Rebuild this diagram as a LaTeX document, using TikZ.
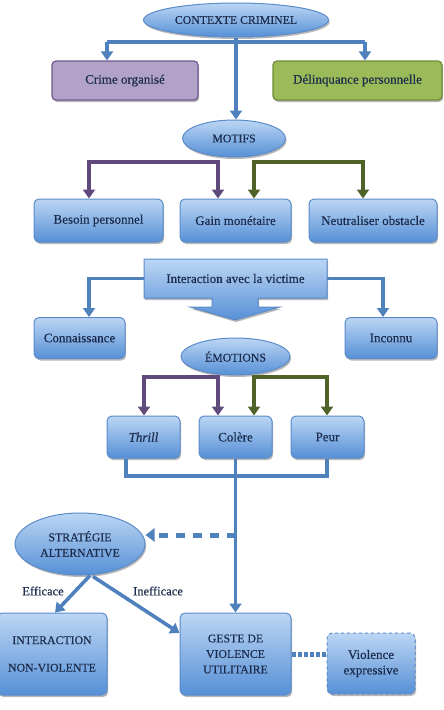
\documentclass[tikz,border=0pt]{standalone}
\usepackage{fontspec}
\setmainfont{Liberation Serif}[FakeBold=0.35]
\usetikzlibrary{shapes.geometric,shadows,arrows.meta}
\definecolor{connc}{HTML}{4F81BD}
\definecolor{bordc}{HTML}{5B8BC9}
\definecolor{btop}{HTML}{BCD6F4}
\definecolor{bbot}{HTML}{5690D6}
\definecolor{txt}{HTML}{1B2B4B}
\definecolor{purpl}{HTML}{604A7B}
\definecolor{purpf}{HTML}{B3A2C7}
\definecolor{purpb}{HTML}{6E5A8E}
\definecolor{greenl}{HTML}{4F6228}
\definecolor{greenf}{HTML}{9BBB59}
\definecolor{greenb}{HTML}{6F8A3A}
\begin{document}
\begin{tikzpicture}[x=1pt,y=-1pt,
  shad/.style={drop shadow={shadow xshift=1.2pt,shadow yshift=-2pt,opacity=0.4,fill=black!70}},
  lower/.style={font=\fontsize{13}{15.5}\selectfont},
  caps/.style={font=\fontsize{11.8}{15.5}\selectfont},
  bbox/.style={shad,rectangle,rounded corners=5pt,draw=bordc,line width=1pt,top color=btop,bottom color=bbot,text=txt,align=center,inner sep=0pt,lower},
  ell/.style={shad,ellipse,draw=bordc,line width=1pt,top color=btop,bottom color=bbot,text=txt,align=center,inner sep=0pt,caps},
  conn/.style={draw=connc,line width=3.6pt},
  tip/.style={-{Triangle[width=12pt,length=9pt]}},
  twotip/.style={{Triangle[width=12pt,length=9pt]}-{Triangle[width=12pt,length=9pt]}},
  purp/.style={draw=purpl,line width=3.6pt,twotip},
  gree/.style={draw=greenl,line width=3.6pt,twotip},
  lbl/.style={text=txt,font=\fontsize{12.5}{15}\selectfont,inner sep=0pt}
]
\useasboundingbox (0,0) rectangle (444,710);
\clip (0,0) rectangle (444,710);

% top
\node[ell,minimum width=185,minimum height=34] (ctx) at (236,20) {CONTEXTE CRIMINEL};
\node[shad,rectangle,rounded corners=4pt,draw=purpb,line width=1.2pt,fill=purpf,text=txt,lower,inner sep=0pt,minimum width=146,minimum height=39] (crime) at (125,80.5) {Crime organisé};
\node[shad,rectangle,rounded corners=4pt,draw=greenb,line width=1.2pt,fill=greenf,text=txt,lower,inner sep=0pt,minimum width=169,minimum height=39] (delin) at (357.5,80.5) {Délinquance personnelle};
\node[ell,minimum width=103,minimum height=37] (motifs) at (234,138.5) {MOTIFS};

\coordinate (tl) at (107,42);
\coordinate (tr) at (365,42);
\draw[conn] (tl) -- (tr);
\draw[conn,tip] (tl) -- (tl |- crime.north);
\draw[conn,tip] (tr) -- (tr |- delin.north);
\draw[conn,tip] (ctx.south) -- (ctx.south |- motifs.north);

% motifs
\node[bbox,minimum width=129,minimum height=43] (besoin) at (98.5,220.5) {Besoin personnel};
\node[bbox,minimum width=111,minimum height=43] (gain) at (235.5,220.5) {Gain monétaire};
\node[bbox,minimum width=128,minimum height=43] (neutr) at (373,220.5) {Neutraliser obstacle};

\coordinate (mp1) at (89,162);
\coordinate (mp2) at (218,162);
\coordinate (mg1) at (254,162);
\coordinate (mg2) at (363,162);
\draw[purp] (mp1 |- besoin.north) -- (mp1) -- (mp2) -- (mp2 |- gain.north);
\draw[gree] (mg1 |- gain.north) -- (mg1) -- (mg2) -- (mg2 |- neutr.north);

% interaction
\path[shad,draw=bordc,line width=1pt,top color=btop,bottom color=bbot]
  (144,259) -- (327,259) -- (327,298) -- (258,298) -- (258,307) -- (280,307) -- (235,320)
  -- (190,307) -- (212,307) -- (212,298) -- (144,298) -- cycle;
\node[text=txt,lower,inner sep=0pt,minimum width=183,minimum height=39] (inter) at (235.5,278.5) {Interaction avec la victime};

\node[bbox,minimum width=91,minimum height=41] (conn) at (79.5,338) {Connaissance};
\node[bbox,minimum width=92,minimum height=41] (inconnu) at (391,338) {Inconnu};
\coordinate (il) at (89,278.5);
\coordinate (ir) at (383,278.5);
\draw[conn,tip] (inter.west) -- (il) -- (il |- conn.north);
\draw[conn,tip] (inter.east) -- (ir) -- (ir |- inconnu.north);

% emotions
\node[ell,minimum width=109,minimum height=37] (emo) at (235.5,356.5) {ÉMOTIONS};
\node[bbox,minimum width=73,minimum height=42] (thrill) at (143.5,437) {\itshape Thrill};
\node[bbox,minimum width=73,minimum height=42] (colere) at (235.5,437) {Colère};
\node[bbox,minimum width=73,minimum height=42] (peur) at (327.5,437) {Peur};

\coordinate (ep1) at (144,377);
\coordinate (ep2) at (218,377);
\coordinate (eg1) at (254,377);
\coordinate (eg2) at (327,377);
\draw[purp] (ep1 |- thrill.north) -- (ep1) -- (ep2) -- (ep2 |- colere.north);
\draw[gree] (eg1 |- colere.north) -- (eg1) -- (eg2) -- (eg2 |- peur.north);

% bottom
\node[ell,minimum width=130,minimum height=62] (strat) at (80,544) {STRATÉGIE\\ALTERNATIVE};
\node[bbox,caps,minimum width=110,minimum height=82] (inv) at (52,654) {INTERACTION\\[12pt]NON-VIOLENTE};
\node[bbox,caps,minimum width=111,minimum height=82] (geste) at (235.5,654) {GESTE DE\\VIOLENCE\\UTILITAIRE};
\node[bbox,dashed,minimum width=88,minimum height=61] (viol) at (371,663.5) {Violence\\expressive};

\coordinate (bl) at (126,476);
\coordinate (br) at (327,476);
\coordinate (ds) at (236,535);
\draw[conn] (bl |- thrill.south) -- (bl) -- (br) -- (br |- peur.south);
\draw[conn,tip] (colere.south) -- (geste.north);
\draw[draw=connc,line width=5pt,dash pattern=on 9pt off 8pt,-{Triangle[width=13pt,length=9pt]}] (ds) -- (strat.east |- ds);

\draw[conn,tip] ([xshift=10pt]strat.south) -- ([xshift=3pt]inv.north);
\draw[conn,tip] ([xshift=13pt,yshift=-1pt]strat.south) -- ([yshift=21pt]geste.west);
\draw[draw=connc,line width=5pt,dash pattern=on 4pt off 2pt] (geste.east) -- (geste.east -| viol.west);

\node[lbl] (eff) at (43,591) {Efficace};
\node[lbl] (ineff) at (158,591) {Inefficace};
\end{tikzpicture}
\end{document}
